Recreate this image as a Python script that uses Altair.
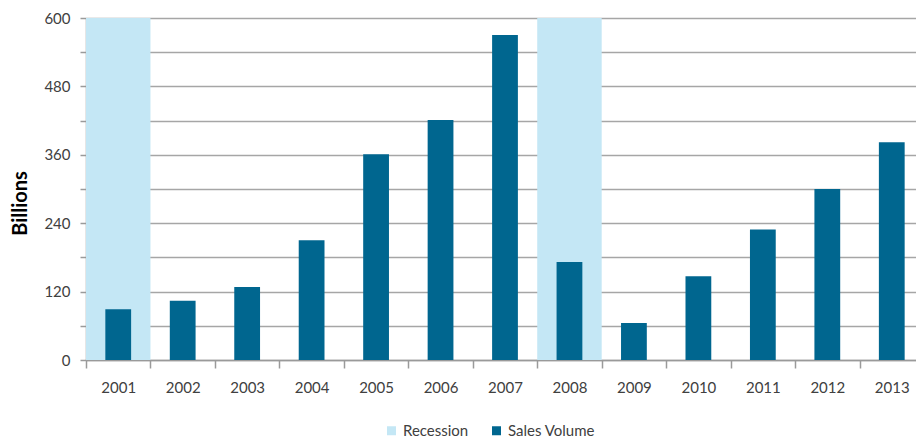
import altair as alt
import pandas as pd

years = ["2001", "2002", "2003", "2004", "2005", "2006", "2007",
         "2008", "2009", "2010", "2011", "2012", "2013"]
sales = [89, 104, 128, 210, 361, 421, 570, 172, 65, 147, 229, 300, 382]
recession_years = ["2001", "2008"]
recession_top = 600
series = ["Recession", "Sales Volume"]
colors = ["#C4E7F5", "#00668F"]
y_ticks = [0, 60, 120, 180, 240, 300, 360, 420, 480, 540, 600]

df = pd.DataFrame({"year": years, "sales": sales})
df["recession"] = [recession_top if y in recession_years else 0 for y in years]

FONT = "Lato"
GRID = "#A6A6A6"
AXIS = "#9A9A9A"
TEXT = "#404040"

color_scale = alt.Scale(domain=series, range=colors)

x_enc = alt.X(
    "year:N",
    sort=years,
    scale=alt.Scale(range=[0, 838], paddingInner=0, paddingOuter=0),
    axis=alt.Axis(
        title=None, labelAngle=0, tickBand="extent", tickSize=8,
        tickColor=AXIS, domainColor=AXIS, labelFont=FONT, labelFontSize=15,
        labelColor=TEXT, labelPadding=12, grid=False, tickWidth=1.5, domainWidth=1.5,
    ),
)

legend = alt.Legend(
    title=None, orient="none", legendX=298, legendY=405, direction="horizontal",
    symbolType="square", symbolSize=81, symbolStrokeWidth=0,
    labelFont=FONT, labelFontSize=15, labelColor=TEXT,
    columnPadding=20, labelOffset=4,
)

y_axis = alt.Axis(
    title="Billions", values=y_ticks,
    labelExpr="datum.value % 120 == 0 ? datum.label : ''",
    grid=True, gridColor=GRID, gridWidth=1.5,
    tickSize=6, tickColor=AXIS, tickWidth=1.5, domainColor=AXIS, domainWidth=1.5,
    labelFont=FONT, labelFontSize=15, labelColor=TEXT, labelPadding=10,
    titleFont=FONT, titleFontSize=20, titleFontWeight="bold", titleColor="#000000",
    titleAngle=-90, titleX=-60, titleY=185, titleAlign="center",
    titleBaseline="alphabetic",
)

y_scale = alt.Scale(domain=[0, 600], nice=False)

base = alt.Chart(df)

recession = base.transform_calculate(series="'Recession'").mark_bar(
    width=alt.RelativeBandSize(1.0)
).encode(
    x=x_enc,
    y=alt.Y("recession:Q", scale=y_scale, axis=y_axis),
    color=alt.Color("series:N", scale=color_scale, legend=legend),
)

sales_bars = base.transform_calculate(series="'Sales Volume'").mark_bar(
    width=alt.RelativeBandSize(0.4)
).encode(
    x=x_enc,
    y=alt.Y("sales:Q", scale=y_scale, axis=y_axis),
    color=alt.Color("series:N", scale=color_scale, legend=legend),
)

chart = alt.layer(recession, sales_bars).properties(
    width=830, height=342,
    autosize=alt.AutoSizeParams(type="none"),
    padding={"left": 86, "top": 18, "right": 0, "bottom": 78},
    background="white",
).configure_view(stroke=None)

chart.save("out.html", embed_options={"renderer": "svg", "actions": False})
